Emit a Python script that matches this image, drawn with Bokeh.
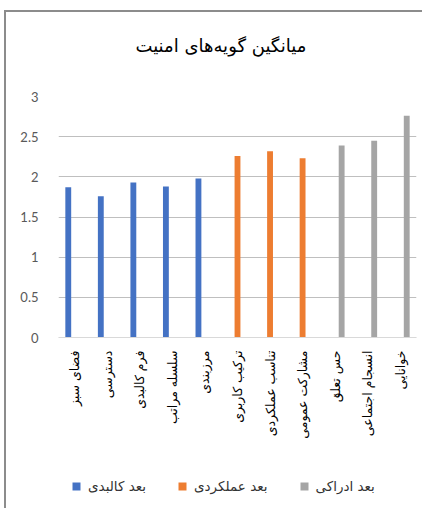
import math
from bokeh.plotting import figure
from bokeh.models import (ColumnDataSource, Range1d, FixedTicker, Legend, LegendItem, Title)
from bokeh.transform import dodge
from bokeh.embed import file_html
from bokeh.resources import INLINE

title_text = "میانگین گویه\u200cهای امنیت"
categories = ["فضای سبز", "دسترسی", "فرم کالبدی", "سلسله مراتب", "مرزبندی",
              "ترکیب کاربری", "تناسب عملکردی", "مشارکت عمومی",
              "حس تعلق", "انسجام اجتماعی", "خوانایی"]
values = [1.87, 1.76, 1.93, 1.88, 1.98, 2.26, 2.32, 2.23, 2.39, 2.45, 2.76]
groups = ["بعد کالبدی", "بعد کالبدی", "بعد کالبدی", "بعد کالبدی", "بعد کالبدی",
          "بعد عملکردی", "بعد عملکردی", "بعد عملکردی",
          "بعد ادراکی", "بعد ادراکی", "بعد ادراکی"]
series_names = ["بعد کالبدی", "بعد عملکردی", "بعد ادراکی"]
series_colors = ["#4472C4", "#ED7D31", "#A5A5A5"]
series_offsets = [-0.2, 0.0, 0.2]
y_ticks = [0, 0.5, 1, 1.5, 2, 2.5, 3]
y_tick_labels = ["0", "0.5", "1", "1.5", "2", "2.5", "3"]

p = figure(width=418, height=498, x_range=categories, y_range=Range1d(-2.09, 3),
           output_backend="svg", toolbar_location=None,
           min_border_left=52, min_border_right=8, min_border_top=84, min_border_bottom=5)
p.margin = (10, 0, 0, 4)
p.styles = {"border-top": "2px solid #8c8c8c", "border-left": "2px solid #8c8c8c"}

items = []
for name, color, off in zip(series_names, series_colors, series_offsets):
    idx = [i for i, g in enumerate(groups) if g == name]
    src = ColumnDataSource(dict(cat=[categories[i] for i in idx], val=[values[i] for i in idx]))
    r = p.vbar(x=dodge("cat", off, range=p.x_range), top="val", width=0.18, source=src,
               fill_color=color, line_color=None)
    items.append(LegendItem(label=name, renderers=[r]))

legend = Legend(items=items, orientation="horizontal", location=(13, 11),
                label_text_font="DejaVu Sans", label_text_font_size="13.5px",
                label_text_color="#333333", glyph_width=10, glyph_height=10,
                spacing=31, border_line_color=None, background_fill_alpha=0,
                margin=0, padding=4, label_standoff=7)
p.add_layout(legend, "center")

spacer = Title(text=" ", text_font_size="1px", standoff=38)
p.add_layout(spacer, "above")
t = Title(text=title_text, align="left", offset=77, text_font="DejaVu Sans",
          text_font_size="18px", text_font_style="normal", text_color="#000000",
          standoff=0)
p.add_layout(t, "above")

p.yaxis.ticker = FixedTicker(ticks=y_ticks)
p.yaxis.major_label_overrides = {t_: l for t_, l in zip(y_ticks, y_tick_labels)}
p.yaxis.axis_line_color = None
p.yaxis.major_tick_line_color = None
p.yaxis.minor_tick_line_color = None
p.yaxis.major_label_text_font = "Lato"
p.yaxis.major_label_text_font_size = "13px"
p.yaxis.major_label_text_color = "#595959"
p.yaxis.major_label_standoff = 14

p.xaxis.fixed_location = 0
p.xaxis.axis_line_color = "#D9D9D9"
p.xaxis.major_tick_line_color = None
p.xaxis.minor_tick_line_color = None
p.xaxis.major_label_orientation = math.pi / 2
p.xaxis.major_label_text_font = "DejaVu Sans"
p.xaxis.major_label_text_font_size = "12.5px"
p.xaxis.major_label_text_color = "#000000"
p.xaxis.major_label_standoff = 7

p.xgrid.grid_line_color = None
p.ygrid.grid_line_color = "#BFBFBF"
p.ygrid.grid_line_width = 1
p.outline_line_color = None
p.background_fill_color = "white"
p.border_fill_color = "white"

open("out.html", "w").write(file_html(p, INLINE))
